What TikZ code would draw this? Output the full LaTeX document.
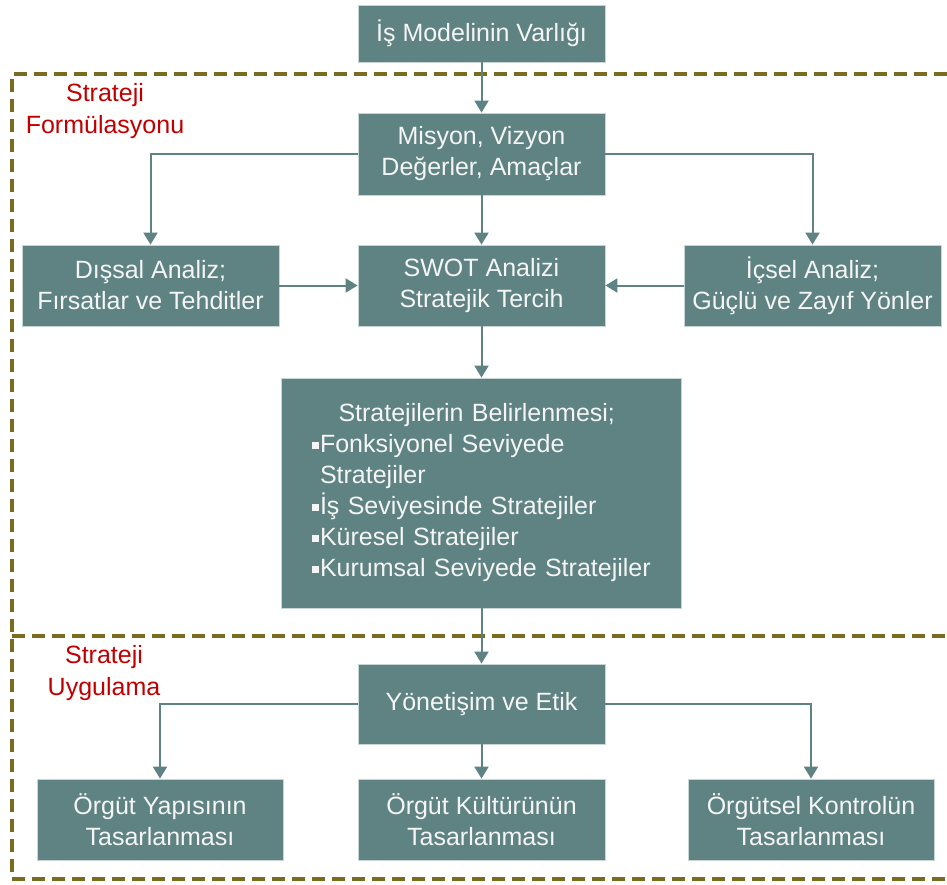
\documentclass[tikz,border=0pt]{standalone}
\usepackage{fontspec}
\setmainfont{Liberation Sans}
\usetikzlibrary{arrows.meta}
\definecolor{boxfill}{RGB}{94,131,130}
\definecolor{boxline}{RGB}{200,214,214}
\definecolor{frameolive}{RGB}{122,108,30}
\definecolor{labelred}{RGB}{192,0,0}
\definecolor{boxtext}{RGB}{245,245,245}
% small square bullet for the strategy list
\newcommand{\sqbul}{\rule[4pt]{7pt}{7pt}\hspace{1.5pt}}

\begin{document}
\begin{tikzpicture}[x=1pt,y=-1pt,
  stepbox/.style={fill=boxfill, draw=boxline, line width=0.8pt, text=boxtext,
    align=center, font=\fontsize{25}{31}\selectfont, inner sep=0pt},
  link/.style={draw=boxfill, line width=2pt, -{Triangle[width=14pt,length=12pt]}},
  frame/.style={draw=frameolive, line width=3.5pt, dash pattern=on 13pt off 7pt},
  phase/.style={text=labelred, align=center, font=\fontsize{25}{32}\selectfont}]
\useasboundingbox (0,0) rectangle (947,884);

% phase frames (open on the right)
\draw[frame] (947,74) -- (12,74) -- (12,879) -- (947,879);
\draw[frame] (12,636) -- (947,636);

% phase labels
\node[phase] (formlabel) at (105,111) {Strateji\\Formülasyonu};
\node[phase] (impllabel) at (104,673) {Strateji\\Uygulama};

% boxes
\node[stepbox, minimum width=247pt, minimum height=57pt] (top) at (481.5,33.5) {İş Modelinin Varlığı};
\node[stepbox, minimum width=247pt, minimum height=82pt] (mis) at (481.5,154) {Misyon, Vizyon\\Değerler, Amaçlar};
\node[stepbox, minimum width=257pt, minimum height=81pt] (dis) at (150.5,285.5) {Dışsal Analiz;\\Fırsatlar ve Tehditler};
\node[stepbox, minimum width=247pt, minimum height=81pt] (swot) at (481.5,285.5) {SWOT Analizi\\Stratejik Tercih};
\node[stepbox, minimum width=257pt, minimum height=81pt] (ics) at (812.5,285.5) {İçsel Analiz;\\Güçlü ve Zayıf Yönler};
\node[stepbox, align=left, text width=340pt, inner xsep=30pt, minimum height=230pt] (strat) at (481.5,493)
  {\hspace*{27pt}Stratejilerin Belirlenmesi;\\
   \sqbul Fonksiyonel Seviyede\\
   \hphantom{\sqbul}Stratejiler\\
   \sqbul İş Seviyesinde Stratejiler\\
   \sqbul Küresel Stratejiler\\
   \sqbul Kurumsal Seviyede Stratejiler};
\node[stepbox, minimum width=247pt, minimum height=80pt] (yon) at (481.5,704) {Yönetişim ve Etik};
\node[stepbox, minimum width=246pt, minimum height=81pt] (yap) at (160,819.5) {Örgüt Yapısının\\Tasarlanması};
\node[stepbox, minimum width=247pt, minimum height=81pt] (kul) at (481.5,819.5) {Örgüt Kültürünün\\Tasarlanması};
\node[stepbox, minimum width=246pt, minimum height=81pt] (kon) at (811,819.5) {Örgütsel Kontrolün\\Tasarlanması};

% connectors
\draw[link] (top) -- (mis);
\draw[link] (mis) -- (swot);
\draw[link] (mis.west) -| (dis.north);
\draw[link] (mis.east) -| (ics.north);
\draw[link] (dis) -- (swot);
\draw[link] (ics) -- (swot);
\draw[link] (swot) -- (strat);
\draw[link] (strat) -- (yon);
\draw[link] (yon) -- (kul);
\draw[link] (yon.west) -| (yap.north);
\draw[link] (yon.east) -| (kon.north);
\end{tikzpicture}
\end{document}
